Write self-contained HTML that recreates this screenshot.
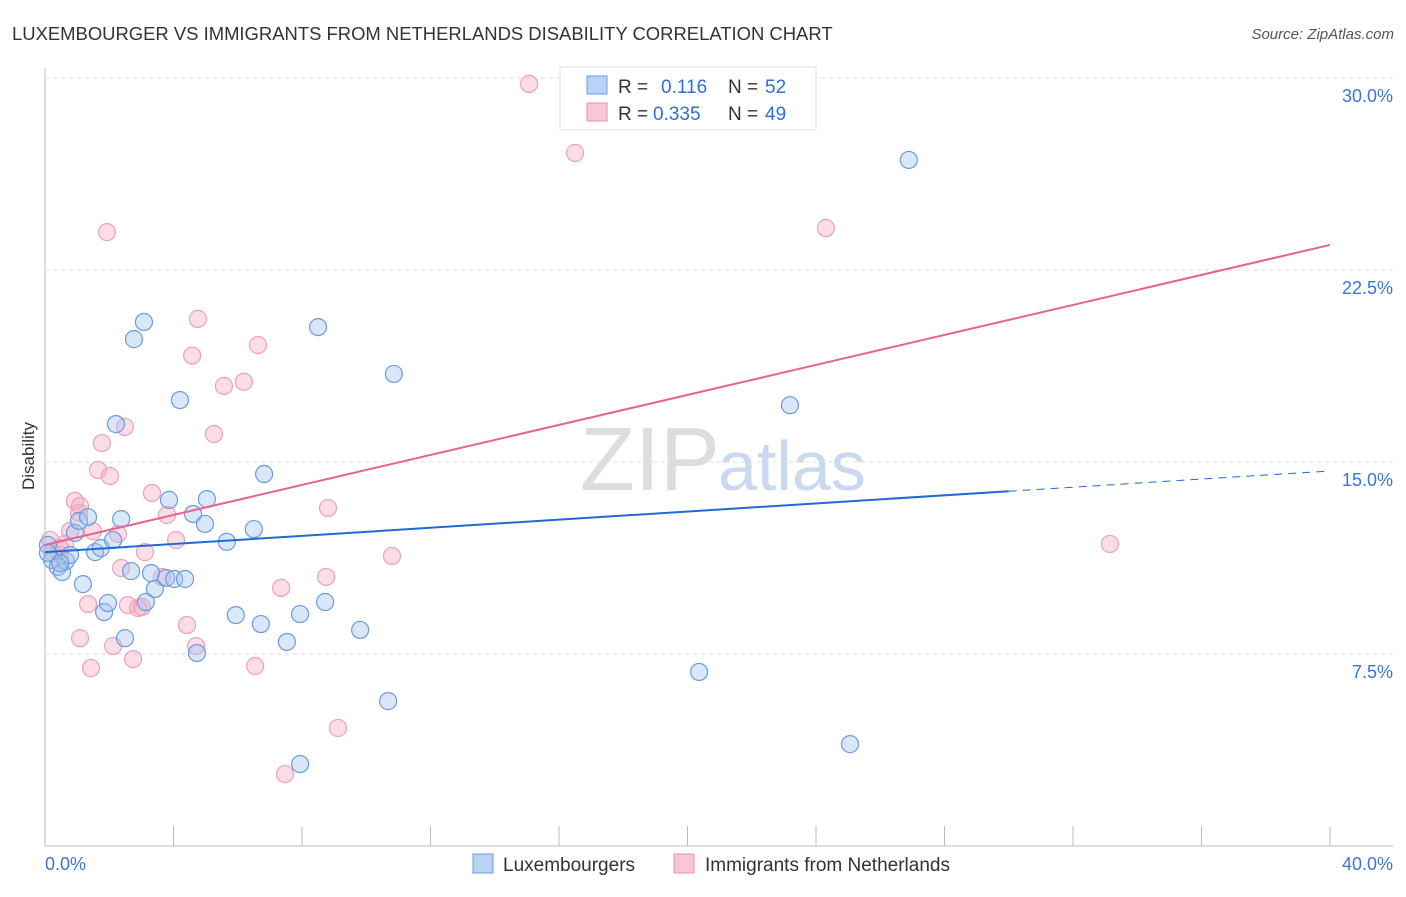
<!DOCTYPE html>
<html><head><meta charset="utf-8"><style>
body{margin:0;background:#fff;font-family:"Liberation Sans",sans-serif}
svg text{font-family:"Liberation Sans",sans-serif}
</style></head><body>
<svg id="c" width="1406" height="892">
<text x="12" y="40" font-size="18.45" fill="#333">LUXEMBOURGER VS IMMIGRANTS FROM NETHERLANDS DISABILITY CORRELATION CHART</text>
<text x="1394" y="39" font-size="15" fill="#555" text-anchor="end" font-style="italic">Source: ZipAtlas.com</text>
<text x="720" y="490" font-size="90" fill="#ddd" text-anchor="end" font-family="Liberation Serif">ZIP</text>
<text x="718" y="490" font-size="70" fill="#c9d9f0">atlas</text>
<text transform="translate(34,456) rotate(-90)" font-size="17" fill="#333" text-anchor="middle">Disability</text>
<g id="grid"></g><g id="pts"></g><g id="lines"></g>
<g>
<rect x="560" y="67" width="256" height="63" fill="#fff" stroke="#ddd"/>
<rect x="587" y="76" width="20" height="18" fill="#b9d3f7" stroke="#6a9be0"/>
<rect x="587" y="103" width="20" height="18" fill="#f9c6d4" stroke="#e890aa"/>
<text x="618" y="93" font-size="19" fill="#333">R = </text><text x="661" y="93" font-size="19" fill="#2f6fd6">0.116</text>
<text x="728" y="93" font-size="19" fill="#333">N = </text><text x="765" y="93" font-size="19" fill="#2f6fd6">52</text>
<text x="618" y="120" font-size="19" fill="#333">R = </text><text x="653" y="120" font-size="19" fill="#2f6fd6">0.335</text>
<text x="728" y="120" font-size="19" fill="#333">N = </text><text x="765" y="120" font-size="19" fill="#2f6fd6">49</text>
</g>
<g>
<rect x="473" y="854" width="20" height="19" fill="#b9d3f7" stroke="#6a9be0"/>
<text x="503" y="871" font-size="19" fill="#333">Luxembourgers</text>
<rect x="674" y="854" width="20" height="19" fill="#f9c6d4" stroke="#e890aa"/>
<text x="705" y="871" font-size="19" fill="#333">Immigrants from Netherlands</text>
</g>
</svg>
<script>
const xTicks=[0,5,10,15,20,25,30,35,40];
const yTicks=[7.5,15,22.5,30];
const blueX=[0.09,0.22,0.40,0.53,0.65,0.78,0.93,1.06,1.18,1.34,1.56,1.74,1.84,1.96,2.12,2.21,2.37,2.49,2.68,2.77,3.08,3.14,3.30,3.42,3.77,3.86,4.02,4.20,4.36,4.61,4.73,4.98,5.04,5.66,5.94,6.50,6.72,6.82,7.53,7.94,7.94,8.50,8.72,9.81,10.68,10.86,20.36,23.19,25.06,26.89,0.09,0.47];
const blueY=[11.76,11.17,10.90,10.70,11.13,11.37,12.23,12.70,10.23,12.85,11.48,11.64,9.14,9.49,11.95,16.48,12.77,8.12,10.74,19.80,20.47,9.53,10.66,10.04,10.47,13.52,10.43,17.42,10.43,12.97,7.54,12.58,13.55,11.88,9.02,12.38,8.67,14.53,7.97,3.20,9.06,20.27,9.53,8.44,5.66,18.44,6.80,17.22,3.98,26.8,11.45,11.05];
const pinkX=[0.22,0.47,0.62,0.78,0.93,1.09,1.06,1.34,1.09,1.43,1.49,1.65,1.77,1.93,2.02,2.12,2.27,2.37,2.49,2.58,2.74,2.90,3.02,3.11,3.33,3.64,3.80,4.08,4.42,4.58,4.70,4.76,5.26,5.57,6.19,6.54,6.63,7.35,7.47,8.75,8.81,9.12,10.80,15.07,16.50,24.31,33.15,0.47,0.16];
const pinkY=[11.48,11.37,11.80,12.30,13.48,13.28,13.01,9.45,8.12,6.95,12.30,14.69,15.74,23.98,14.45,7.81,12.19,10.86,16.37,9.41,7.30,9.30,9.34,11.48,13.79,10.51,12.93,11.95,8.63,19.16,7.81,20.59,16.09,17.97,18.13,7.03,19.57,10.08,2.81,10.51,13.20,4.61,11.33,29.77,27.07,24.14,11.80,11.64,11.95];
const blueLine=[11.48,14.65], pinkLine=[11.76,23.48], blueSolidEnd=30.0;
const X=v=>45+v/40*1285, Y=v=>846-v*25.6;
const ns="http://www.w3.org/2000/svg";
function mk(p,t,a){const e=document.createElementNS(ns,t);for(const k in a)e.setAttribute(k,a[k]);p.appendChild(e);return e;}
const g=document.getElementById('grid');
let e=mk(g,'line',{x1:45,y1:68,x2:45,y2:846,stroke:'#bbb'});


e=mk(g,'line',{x1:45,y1:846,x2:1393,y2:846,stroke:'#bbb'});


yTicks.forEach(v=>{
 e=mk(g,'line',{x1:45,y1:Y(v),x2:1393,y2:Y(v),stroke:'#ddd','stroke-dasharray':'4,4'});
 
 
 e=mk(g,'text',{x:1393,y:Y(v)+24,'font-size':18,fill:'#3a75d6','text-anchor':'end'});e.textContent=v.toFixed(1)+'%';
 
 
});
for(let i=0;i<=10;i++){e=mk(g,'line',{x1:X(i*4),y1:826,x2:X(i*4),y2:846,stroke:'#bbb'});
 
 }
[[0,45,'start'],[40,1393,'end']].forEach(([v,x,a])=>{e=mk(g,'text',{x:x,y:870,'font-size':18,fill:'#3a75d6','text-anchor':a});e.textContent=v.toFixed(1)+'%';
 
 });
const P=document.getElementById('pts');
pinkX.forEach((x,i)=>{e=mk(P,'circle',{cx:X(x),cy:Y(pinkY[i]),r:8.5,fill:'rgba(246,170,192,0.4)',stroke:'#eea0b8','stroke-width':1.2});
 
 });
blueX.forEach((x,i)=>{e=mk(P,'circle',{cx:X(x),cy:Y(blueY[i]),r:8.5,fill:'rgba(160,195,240,0.4)',stroke:'#6a9be0','stroke-width':1.2});
 
 });
const L=document.getElementById('lines');
const by=x=>blueLine[0]+(blueLine[1]-blueLine[0])*x/40;
e=mk(L,'line',{x1:X(0),y1:Y(by(0)),x2:X(blueSolidEnd),y2:Y(by(blueSolidEnd)),stroke:'#1f6bd6','stroke-width':2});


e=mk(L,'line',{x1:X(blueSolidEnd),y1:Y(by(blueSolidEnd)),x2:X(40),y2:Y(by(40)),stroke:'#1f6bd6','stroke-width':1,'stroke-dasharray':'8,6'});


e=mk(L,'line',{x1:X(0),y1:Y(pinkLine[0]),x2:X(40),y2:Y(pinkLine[1]),stroke:'#e8628e','stroke-width':2});


</script>
</body></html>
